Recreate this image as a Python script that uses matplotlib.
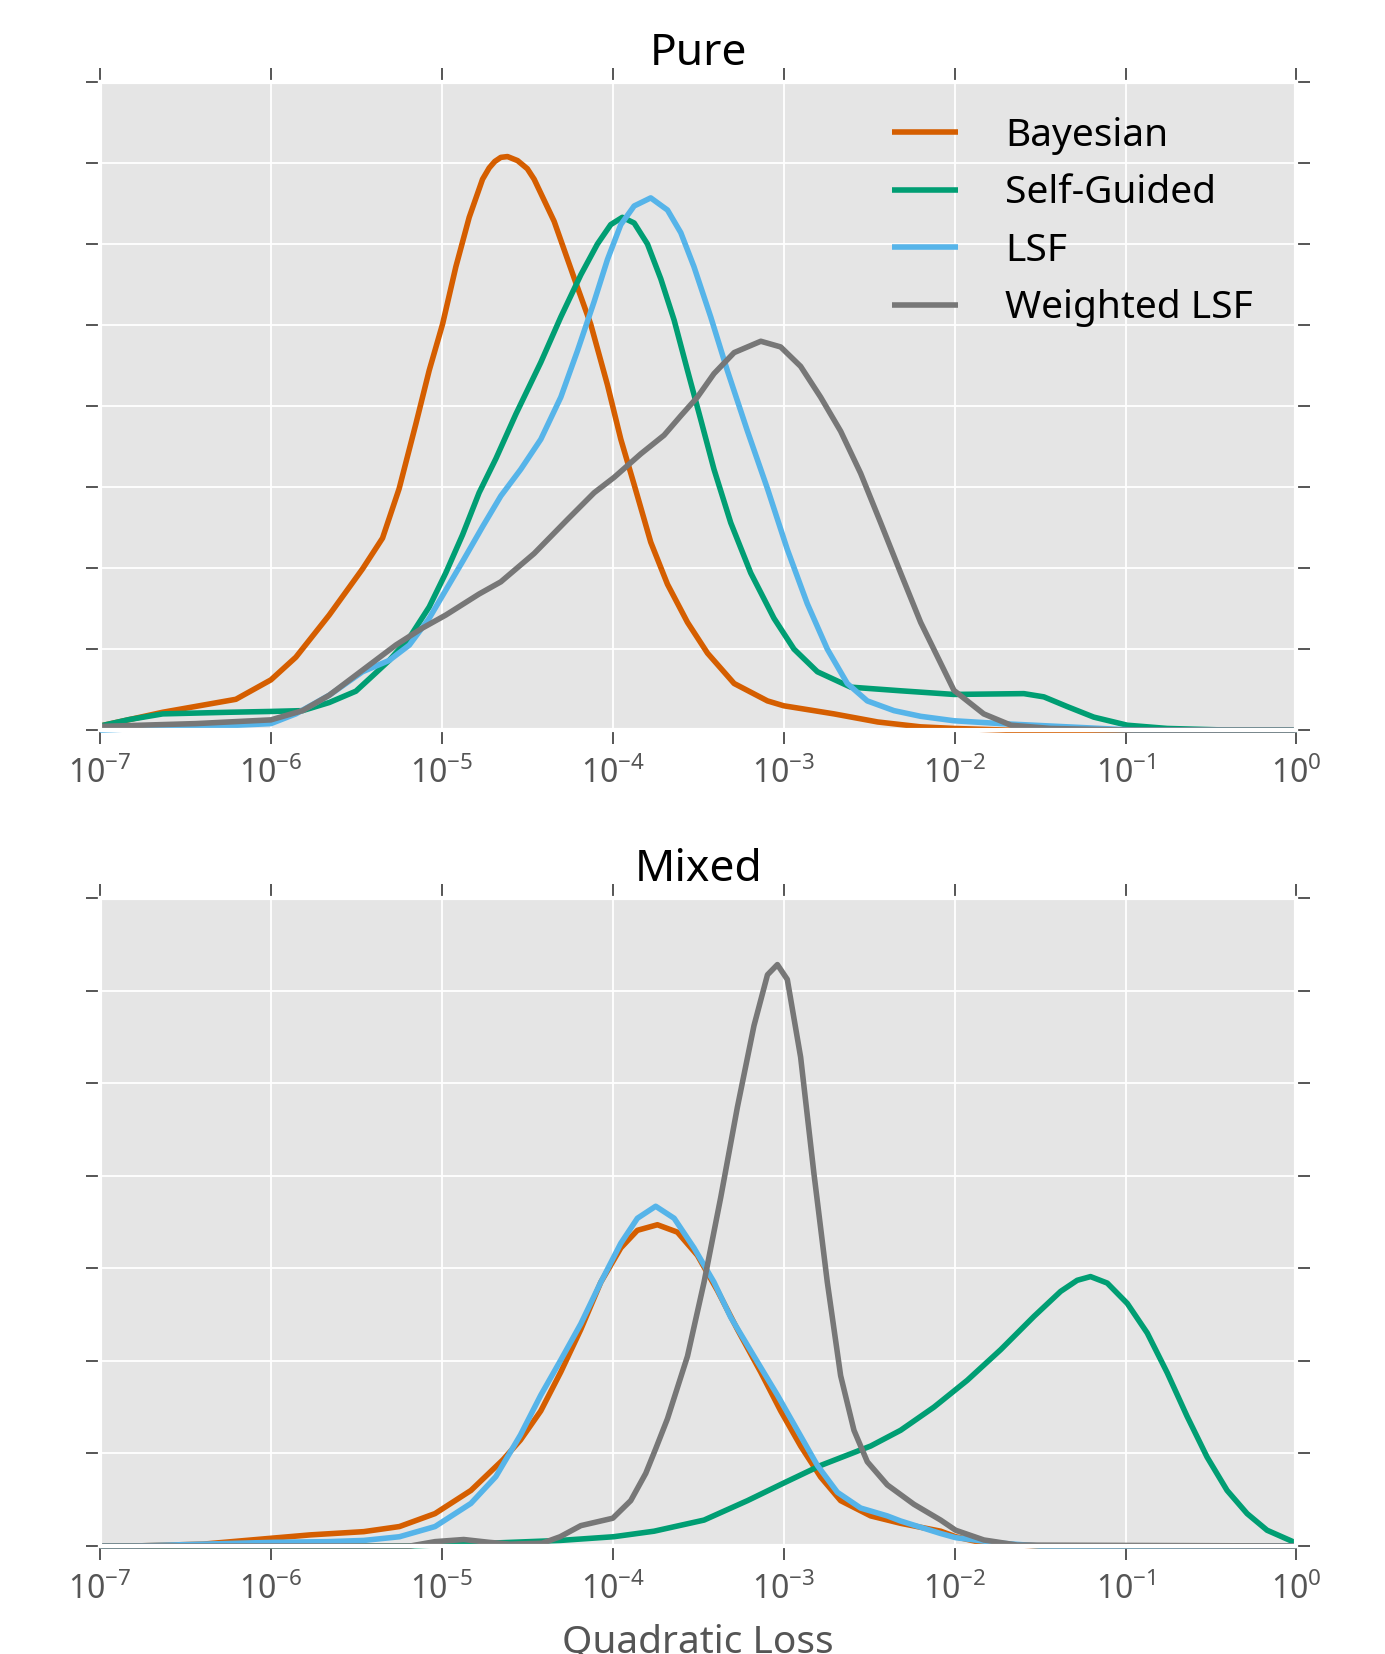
import numpy as np
import matplotlib
matplotlib.use("Agg")
import matplotlib.pyplot as plt

# ---- data (x given as log10 of quadratic loss, y as density in grid units) ----
series_names = ["Bayesian", "Self-Guided", "LSF", "Weighted LSF"]
series_colors = ["#D55E00", "#009E73", "#56B4E9", "#777777"]

pure_bayes_logx = [-7.0, -6.633, -6.205, -6.0, -5.854, -5.659, -5.464, -5.347, -5.25, -5.152,
                   -5.074, -4.996, -4.918, -4.84, -4.762, -4.723, -4.69, -4.655, -4.616, -4.557,
                   -4.5, -4.46, -4.343,
                   -4.226, -4.129, -4.031, -3.953, -3.875, -3.778, -3.68, -3.563, -3.446, -3.29,
                   -3.095, -3.0, -2.706, -2.45, -2.2, -2.0, -1.7, 0.0]
pure_bayes_y = [0.05, 0.22, 0.38, 0.62, 0.90, 1.42, 1.99, 2.37, 2.98, 3.78,
                4.44, 5.01, 5.72, 6.33, 6.80, 6.94, 7.02, 7.07, 7.08, 7.03,
                6.93, 6.80, 6.28,
                5.58, 5.01, 4.26, 3.59, 3.03, 2.32, 1.80, 1.33, 0.95, 0.575,
                0.36, 0.30, 0.20, 0.10, 0.04, 0.02, 0.0, 0.0]

pure_sg_logx = [-7.0, -6.829, -6.633, -6.439, -6.244, -6.0, -5.815, -5.659, -5.503, -5.405,
                -5.308, -5.19, -5.074, -4.977, -4.879, -4.782, -4.684, -4.567, -4.421, -4.304,
                -4.187, -4.09, -4.012, -3.944, -3.875, -3.797, -3.719, -3.641, -3.563, -3.485,
                -3.408, -3.31, -3.193, -3.057, -2.94, -2.803, -2.608, -2.316, -2.004, -1.595,
                -1.478, -1.341, -1.186, -0.99, -0.756, -0.4, 0.0]
pure_sg_y = [0.05, 0.13, 0.20, 0.21, 0.22, 0.23, 0.24, 0.34, 0.48, 0.67,
             0.86, 1.14, 1.52, 1.94, 2.41, 2.93, 3.35, 3.90, 4.54, 5.10,
             5.62, 6.00, 6.24, 6.33, 6.26, 6.00, 5.57, 5.06, 4.44, 3.83,
             3.22, 2.56, 1.94, 1.38, 1.00, 0.72, 0.53, 0.485, 0.44, 0.45,
             0.41, 0.29, 0.16, 0.06, 0.02, 0.0, 0.0]

pure_lsf_logx = [-7.0, -6.633, -6.244, -6.0, -5.854, -5.659, -5.464, -5.308, -5.19, -5.074,
                 -4.996, -4.879, -4.762, -4.655, -4.538, -4.421, -4.304, -4.207, -4.109, -4.031,
                 -3.953, -3.875, -3.778, -3.68, -3.602, -3.525, -3.427, -3.33, -3.212, -3.095,
                 -2.979, -2.862, -2.745, -2.628, -2.511, -2.355, -2.199, -2.004, -1.731, -1.439,
                 -1.146, -0.95, 0.0]
pure_lsf_y = [0.0, 0.03, 0.055, 0.08, 0.20, 0.43, 0.72, 0.86, 1.05, 1.38,
              1.66, 2.08, 2.51, 2.89, 3.22, 3.59, 4.11, 4.68, 5.29, 5.81,
              6.24, 6.47, 6.57, 6.42, 6.14, 5.72, 5.10, 4.44, 3.69, 2.98,
              2.23, 1.56, 1.00, 0.575, 0.36, 0.24, 0.17, 0.115, 0.08, 0.05,
              0.02, 0.0, 0.0]

pure_wlsf_logx = [-7.0, -6.439, -6.0, -5.815, -5.659, -5.464, -5.269, -5.113, -4.977, -4.782,
                  -4.655, -4.46, -4.265, -4.109, -3.992, -3.836, -3.7, -3.602, -3.505, -3.408,
                  -3.29, -3.134, -3.018, -2.901, -2.784, -2.667, -2.55, -2.433, -2.316, -2.199,
                  -2.12, -2.004, -1.83, -1.67, -1.44, -1.0, 0.0]
pure_wlsf_y = [0.045, 0.08, 0.126, 0.24, 0.43, 0.74, 1.05, 1.26, 1.42, 1.68,
               1.83, 2.18, 2.60, 2.93, 3.12, 3.41, 3.64, 3.88, 4.11, 4.40,
               4.66, 4.80, 4.73, 4.49, 4.11, 3.69, 3.17, 2.56, 1.94, 1.33,
               0.99, 0.49, 0.20, 0.06, 0.02, 0.0, 0.0]

mixed_bayes_logx = [-7.0, -6.8, -6.397, -6.084, -5.77, -5.457, -5.248, -5.04, -4.83, -4.643,
                    -4.54, -4.421, -4.304, -4.187, -4.07, -3.953, -3.856, -3.739, -3.622, -3.505,
                    -3.388, -3.271, -3.135, -3.018, -2.901, -2.784, -2.667, -2.491, -2.316, -2.082,
                    -1.994, -1.83, -1.5, 0.0]
mixed_bayes_y = [0.0, 0.0, 0.02, 0.07, 0.12, 0.155, 0.21, 0.35, 0.60, 0.93,
                 1.145, 1.46, 1.88, 2.34, 2.85, 3.22, 3.41, 3.47, 3.39, 3.14,
                 2.76, 2.34, 1.88, 1.46, 1.08, 0.745, 0.49, 0.325, 0.245, 0.16,
                 0.10, 0.03, 0.0, 0.0]

mixed_sg_logx = [-7.0, -5.2, -4.726, -4.308, -3.995, -3.758, -3.466, -3.212, -3.0, -2.784,
                 -2.491, -2.316, -2.121, -1.926, -1.731, -1.536, -1.38, -1.283, -1.205, -1.107,
                 -0.99, -0.873, -0.756, -0.64, -0.523, -0.406, -0.289, -0.172, 0.0]
mixed_sg_y = [0.0, 0.0, 0.03, 0.06, 0.10, 0.16, 0.28, 0.49, 0.68, 0.87,
              1.08, 1.25, 1.50, 1.79, 2.12, 2.48, 2.75, 2.87, 2.91, 2.84,
              2.62, 2.30, 1.87, 1.40, 0.96, 0.60, 0.35, 0.17, 0.03]

mixed_lsf_logx = [-7.0, -6.8, -6.397, -5.979, -5.666, -5.457, -5.248, -5.04, -4.83, -4.684,
                  -4.54, -4.421, -4.304, -4.187, -4.07, -3.953, -3.856, -3.749, -3.641, -3.525,
                  -3.408, -3.31, -3.174, -3.037, -2.92, -2.803, -2.686, -2.55, -2.394, -2.316,
                  -2.082, -1.994, -1.73, -1.5, 0.0]
mixed_lsf_y = [0.0, 0.0, 0.02, 0.04, 0.047, 0.06, 0.10, 0.21, 0.46, 0.75,
               1.20, 1.63, 2.01, 2.40, 2.85, 3.27, 3.54, 3.67, 3.54, 3.22,
               2.85, 2.47, 2.05, 1.63, 1.25, 0.87, 0.58, 0.41, 0.325, 0.27,
               0.135, 0.09, 0.03, 0.0, 0.0]

mixed_wlsf_logx = [-7.0, -5.185, -5.04, -4.872, -4.726, -4.6, -4.413, -4.308, -4.187, -4.0,
                   -3.895, -3.807, -3.749, -3.68, -3.563, -3.466, -3.368, -3.271, -3.174, -3.095,
                   -3.037, -2.979, -2.901, -2.823, -2.745, -2.667, -2.589, -2.511, -2.394, -2.238,
                   -2.082, -1.994, -1.829, -1.634, 0.0]
mixed_wlsf_y = [0.0, 0.0, 0.047, 0.07, 0.04, 0.02, 0.03, 0.10, 0.22, 0.30,
                0.49, 0.785, 1.05, 1.375, 2.05, 2.85, 3.77, 4.74, 5.62, 6.17,
                6.28, 6.12, 5.28, 4.02, 2.85, 1.84, 1.25, 0.91, 0.66, 0.45,
                0.28, 0.17, 0.065, 0.01, 0.0]

decades = [1e-7, 1e-6, 1e-5, 1e-4, 1e-3, 1e-2, 1e-1, 1e0]

# ---- style ----
plt.rcParams['font.family'] = ['Noto Sans', 'DejaVu Sans']
plt.rcParams['mathtext.fontset'] = 'custom'
plt.rcParams['mathtext.rm'] = 'Noto Sans'
plt.rcParams['mathtext.it'] = 'Noto Sans:italic'
plt.rcParams['mathtext.default'] = 'regular'
plt.rcParams['axes.unicode_minus'] = False

fig = plt.figure(figsize=(13.85, 16.54), dpi=100)
ax_top = fig.add_axes([0.0722, 0.5586, 0.8639, 0.3918])
ax_bot = fig.add_axes([0.0722, 0.0653, 0.8639, 0.3918])

panels = [
    (ax_top, "Pure", 8,
     [(pure_bayes_logx, pure_bayes_y), (pure_sg_logx, pure_sg_y),
      (pure_lsf_logx, pure_lsf_y), (pure_wlsf_logx, pure_wlsf_y)]),
    (ax_bot, "Mixed", 7,
     [(mixed_bayes_logx, mixed_bayes_y), (mixed_sg_logx, mixed_sg_y),
      (mixed_lsf_logx, mixed_lsf_y), (mixed_wlsf_logx, mixed_wlsf_y)]),
]

for ax, title, ymax, curves in panels:
    ax.set_facecolor("#E5E5E5")
    ax.set_axisbelow(True)
    for (lx, yy), name, col in zip(curves, series_names, series_colors):
        ax.plot(10.0 ** np.array(lx), yy, color=col, lw=4.0, label=name,
                clip_on=False, solid_capstyle='butt', solid_joinstyle='round')
    ax.set_xscale("log")
    ax.set_xlim(1e-7, 1e0)
    ax.set_ylim(0, ymax)
    ax.set_xticks(decades)
    ax.xaxis.set_minor_locator(matplotlib.ticker.NullLocator())
    ax.set_yticks(range(ymax + 1))
    ax.set_yticklabels([])
    ax.grid(True, color="white", lw=1.3)
    for sp in ax.spines.values():
        sp.set_color("white")
        sp.set_linewidth(3)
    ax.tick_params(axis="both", which="major", direction="out", length=10, width=1.4,
                   color="#555555", labelcolor="#555555", labelsize=23,
                   top=True, right=True, pad=10)
    ax.set_title(title, fontsize=32, pad=12)

ax_top.legend(loc="upper left", bbox_to_anchor=(0.662, 0.946), frameon=False,
              fontsize=28, handlelength=1.7, handletextpad=1.2, labelspacing=0.5,
              borderpad=0, borderaxespad=0)

ax_bot.set_xlabel("Quadratic Loss", fontsize=28, color="#555555", labelpad=12)

fig.savefig("out.png", dpi=100)
